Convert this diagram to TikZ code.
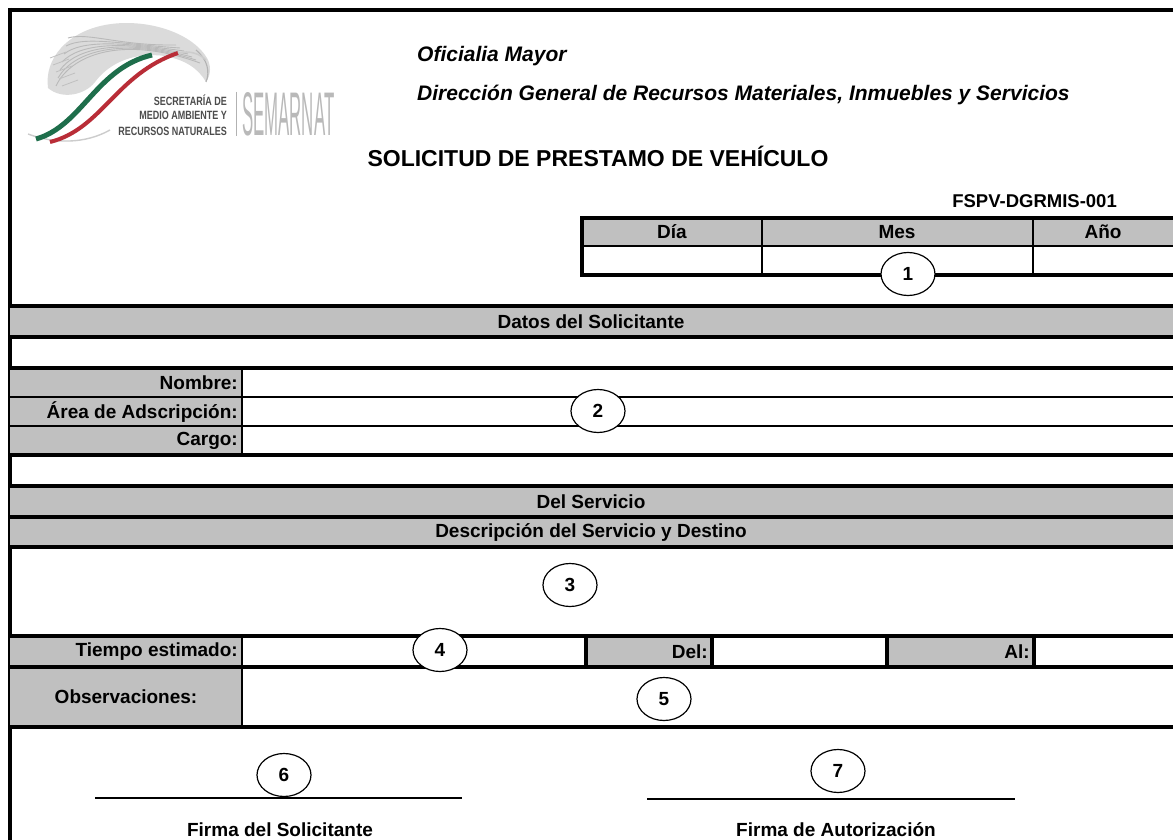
\documentclass[tikz,border=0pt]{standalone}
\usepackage{fontspec}
\setmainfont{Liberation Sans}
\usetikzlibrary{shapes.geometric}
\definecolor{formgray}{RGB}{192,192,192}
\definecolor{logogreen}{RGB}{30,110,75}
\definecolor{logored}{RGB}{185,45,55}
\begin{document}
\begin{tikzpicture}[x=1pt,y=-1pt,
  heavy/.style={line width=4pt},
  light/.style={line width=2.2pt},
  lab/.style={font=\bfseries\fontsize{19}{22}\selectfont, inner sep=0pt},
  hdr/.style={anchor=west, inner sep=0pt, font=\bfseries\itshape\fontsize{21}{24}\selectfont},
  logotext/.style={anchor=east, inner sep=0pt, text=black!70},
  num/.style={ellipse, draw, line width=1.2pt, fill=white, minimum width=54pt, minimum height=43pt, font=\bfseries\fontsize{19}{22}\selectfont, inner sep=0pt}]
\useasboundingbox (0,0) rectangle (1173,840);
\fill[white] (0,0) rectangle (1173,840);

% ---------- logo: eagle ----------
\fill[gray!28] (48,88) .. controls (44,58) and (68,32) .. (105,25)
  .. controls (142,18) and (187,30) .. (205,55)
  .. controls (212,64) and (211,75) .. (206,82)
  .. controls (198,68) and (185,60) .. (165,56)
  .. controls (135,52) and (110,62) .. (95,82)
  .. controls (85,95) and (62,100) .. (48,88) -- cycle;
\foreach \k in {0,1,2,3,4,5,6}{
  \draw[gray!55, line width=0.9pt] (56+\k*2,86-\k*8) .. controls (70+\k*3,56-\k*4) and (120,34+\k*2) .. (200-\k*4,63-\k*3);}
\foreach \k in {0,1,2,3,4}{
  \draw[gray!50, line width=0.8pt] (50+\k*3,58+\k*7) -- (66+\k*3,52+\k*7);}
\draw[gray!60, line width=1.1pt] (196,50) .. controls (208,60) and (210,72) .. (206,82);
% ---------- logo: stripes ----------
\draw[gray!40, line width=1.4pt] (28,134) .. controls (55,144) and (85,144) .. (110,130);
\draw[logogreen, line width=5pt] (36,139) .. controls (82,126) and (96,68) .. (152,55);
\draw[logored, line width=4pt] (50,142) .. controls (102,129) and (116,74) .. (178,53);
\draw[gray!40, line width=1.5pt] (178,53) .. controls (190,50) and (200,54) .. (206,60);
% ---------- logo: text ----------
\node[logotext] (lg1) at (227,100) {\scalebox{0.75}[1]{\bfseries\fontsize{12}{13}\selectfont SECRETARÍA DE}};
\node[logotext] (lg2) at (227,115.5) {\scalebox{0.75}[1]{\bfseries\fontsize{12}{13}\selectfont MEDIO AMBIENTE Y}};
\node[logotext] (lg3) at (227,131) {\scalebox{0.75}[1]{\bfseries\fontsize{12}{13}\selectfont RECURSOS NATURALES}};
\draw[gray!60, line width=1pt] (236,92) -- (236,136);
\node[anchor=west, inner sep=0pt, text=gray!55] (semarnat) at (242,114) {\scalebox{0.6}[2.2]{\fontsize{28}{30}\selectfont SEMARNAT}};

% ---------- header texts ----------
\node[hdr] (om) at (417,56) {Oficialia Mayor};
\node[hdr] (dg) at (417,95) {Dirección General de Recursos Materiales, Inmuebles y Servicios};
\node[inner sep=0pt, font=\bfseries\fontsize{23}{27}\selectfont] (title) at (598,156) {SOLICITUD DE PRESTAMO DE VEHÍCULO};
\node[anchor=east, inner sep=0pt, font=\bfseries\fontsize{18.5}{21}\selectfont] (code) at (1117,201) {FSPV-DGRMIS-001};

% ---------- outer frame ----------
\draw[heavy] (10,10) -- (1173,10);
\draw[heavy] (10,8) -- (10,840);

% ---------- date table ----------
\fill[formgray] (582,218) rectangle (1173,246);
\draw[light] (582,246) -- (1173,246);
\draw[light] (762,218) -- (762,275);
\draw[light] (1033,218) -- (1033,275);
\draw[heavy] (582,218) -- (1173,218);
\draw[heavy] (582,275) -- (1173,275);
\draw[heavy] (582,216) -- (582,277);
\node[lab] (dia) at (672,232) {Día};
\node[lab] (mes) at (897,232) {Mes};
\node[lab] (anio) at (1103,232) {Año};

% ---------- Datos del Solicitante ----------
\fill[formgray] (10,306) rectangle (1173,337);
\draw[heavy] (10,306) -- (1173,306);
\draw[heavy] (10,337) -- (1173,337);
\node[lab] (datos) at (591,321.5) {Datos del Solicitante};

\fill[formgray] (10,368) rectangle (242,455);
\draw[light] (10,397) -- (1173,397);
\draw[light] (10,426) -- (1173,426);
\draw[light] (242,368) -- (242,455);
\draw[heavy] (10,368) -- (1173,368);
\draw[heavy] (10,455) -- (1173,455);
\node[lab, anchor=east] (nombre) at (238,383) {Nombre:};
\node[lab, anchor=east] (area) at (238,412) {Área de Adscripción:};
\node[lab, anchor=east] (cargo) at (238,441) {Cargo:};

% ---------- Del Servicio ----------
\fill[formgray] (10,486) rectangle (1173,547);
\draw[heavy] (10,486) -- (1173,486);
\draw[heavy] (10,517) -- (1173,517);
\draw[heavy] (10,547) -- (1173,547);
\node[lab] (delserv) at (591,501.5) {Del Servicio};
\node[lab] (desc) at (591,532) {Descripción del Servicio y Destino};

% ---------- Tiempo / Observaciones ----------
\fill[formgray] (10,636) rectangle (242,727);
\fill[formgray] (586,636) rectangle (712,667);
\fill[formgray] (887,636) rectangle (1034,667);
\draw[light] (242,636) -- (242,727);
\draw[heavy] (586,636) -- (586,667);
\draw[heavy] (712,636) -- (712,667);
\draw[heavy] (887,636) -- (887,667);
\draw[heavy] (1034,636) -- (1034,667);
\draw[heavy] (10,636) -- (1173,636);
\draw[heavy] (10,667) -- (1173,667);
\draw[heavy] (10,727) -- (1173,727);
\node[lab, anchor=east] (tiempo) at (238,651.5) {Tiempo estimado:};
\node[lab, anchor=east] (del) at (708,651.5) {Del:};
\node[lab, anchor=east] (al) at (1030,651.5) {Al:};
\node[lab] (obs) at (126,697) {Observaciones:};

% ---------- signatures ----------
\coordinate (s1a) at (95,798);
\coordinate (s1b) at (462,798);
\coordinate (s2a) at (647,799);
\coordinate (s2b) at (1015,799);
\draw[line width=1.2pt] (s1a) -- (s1b);
\draw[line width=1.2pt] (s2a) -- (s2b);
\node[lab] (firma1) at (280,830) {Firma del Solicitante};
\node[lab] (firma2) at (836,830) {Firma de Autorización};

% ---------- numbered marks ----------
\node[num] (n1) at (908,274) {1};
\node[num] (n2) at (598,411) {2};
\node[num] (n3) at (570,585) {3};
\node[num] (n4) at (440,650) {4};
\node[num] (n5) at (664,699) {5};
\node[num] (n6) at (284,775) {6};
\node[num] (n7) at (838,771) {7};
\end{tikzpicture}
\end{document}
